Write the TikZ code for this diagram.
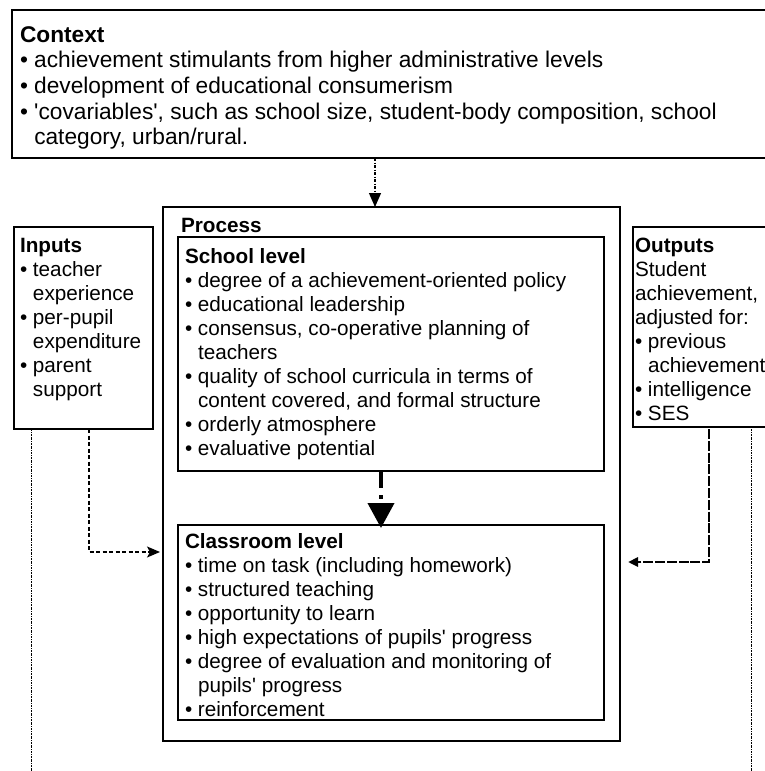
\documentclass[tikz,border=0pt]{standalone}
\usepackage{fontspec}
\setmainfont{Liberation Sans}
\usetikzlibrary{calc,arrows.meta}
% fixed first-line heights so that a text's top sits a known distance above its first baseline
\newcommand{\firstline}{\rule{0pt}{16pt}}
\newcommand{\firstlinebig}{\rule{0pt}{18pt}}
\begin{document}
\begin{tikzpicture}[x=1pt,y=-1pt,
  frame/.style={draw, line width=2.8pt, inner sep=0pt, outer sep=0pt, anchor=north west},
  thinframe/.style={draw, line width=1.2pt, inner sep=0pt, outer sep=0pt, anchor=north west},
  txt/.style={anchor=north west, inner sep=0pt, outer sep=0pt, align=left,
    font=\fontsize{20.7}{24}\selectfont},
  ctxtxt/.style={txt, font=\fontsize{22.7}{25.7}\selectfont},
  ctxarrow/.style={line width=1.2pt, dash pattern=on 3pt off 1.5pt on 1pt off 1.5pt,
    -{Triangle[length=14pt,width=12pt]}},
  levelarrow/.style={line width=4pt, dash pattern=on 17pt off 7pt on 4pt off 30pt,
    -{Triangle[length=25pt,width=26pt]}},
  inarrow/.style={line width=1.2pt, dash pattern=on 4pt off 2.5pt,
    -{Stealth[length=13pt,width=11pt,inset=3pt]}},
  outarrow/.style={line width=2.6pt, dash pattern=on 10pt off 1.8pt,
    -{Triangle[length=10pt,width=9pt]}},
  guide/.style={line width=1pt, dash pattern=on 2pt off 1pt on 0.6pt off 1pt}]
\useasboundingbox (0,0) rectangle (765,771);

% boxes
\node[frame, minimum width=800pt, minimum height=148pt] (ctx) at (12,10) {};
\node[frame, minimum width=457pt, minimum height=534pt] (proc) at (163,207) {};
\node[frame, minimum width=426pt, minimum height=234pt] (school) at (178,237) {};
\node[frame, minimum width=426pt, minimum height=195pt] (class) at (178,525) {};
\node[frame, minimum width=139pt, minimum height=202pt] (inputs) at (14,227) {};
\node[thinframe, minimum width=160pt, minimum height=200pt] (outputs) at (633,227) {};

% texts (top = first baseline - rule height)
\node[ctxtxt] (ctxlabel) at (20,24) {\firstlinebig\textbf{Context}\\
• achievement stimulants from higher administrative levels\\
• development of educational consumerism\\
• \textquotesingle covariables\textquotesingle, such as school size, student-body composition, school\\
\hphantom{• }category, urban/rural.};

\node[txt] (proclabel) at (181,216) {\firstline\textbf{Process}};

\node[txt] (schoollabel) at (185,247) {\firstline\textbf{School level}\\
• degree of a achievement-oriented policy\\
• educational leadership\\
• consensus, co-operative planning of\\
\hphantom{• }teachers\\
• quality of school curricula in terms of\\
\hphantom{• }content covered, and formal structure\\
• orderly atmosphere\\
• evaluative potential};

\node[txt] (classlabel) at (185,532) {\firstline\textbf{Classroom level}\\
• time on task (including homework)\\
• structured teaching\\
• opportunity to learn\\
• high expectations of pupils\textquotesingle\ progress\\
• degree of evaluation and monitoring of\\
\hphantom{• }pupils\textquotesingle\ progress\\
• reinforcement};

\node[txt] (inlabel) at (20,236) {\firstline\textbf{Inputs}\\
• teacher\\
\hphantom{• }experience\\
• per-pupil\\
\hphantom{• }expenditure\\
• parent\\
\hphantom{• }support};

\node[txt] (outlabel) at (635,236) {\firstline\textbf{Outputs}\\
Student\\
achievement,\\
adjusted for:\\
• previous\\
\hphantom{• }achievement\\
• intelligence\\
• SES};

% connectors
\draw[ctxarrow] ($(ctx.south west)+(363,0)$) -- ($(proc.north west)+(212,0)$);
\draw[levelarrow] ($(school.south west)+(203,0)$) -- ($(class.north west)+(203,3)$);
\draw[inarrow, shorten >=3pt] ($(inputs.south west)+(75,0)$) |- ($(proc.north west)+(0,345)$);
\draw[outarrow, shorten >=8pt] ($(outputs.south west)+(76,2)$) |- ($(proc.north east)+(0,355)$);

% guide lines running down from the side boxes
\coordinate (lend) at (31,771);
\coordinate (rend) at (751,771);
\draw[guide] ($(inputs.south west)+(17,0)$) -- (lend);
\draw[guide] ($(outputs.south west)+(118,2)$) -- (rend);
\end{tikzpicture}
\end{document}
